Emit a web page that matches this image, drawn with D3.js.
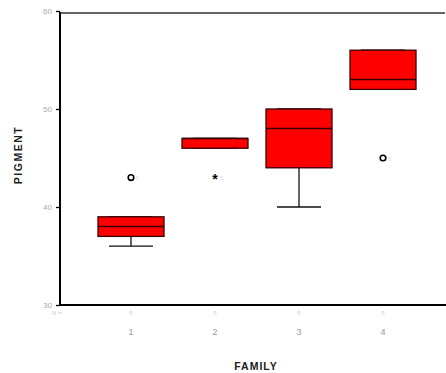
<!DOCTYPE html>
<html>
<head>
<meta charset="utf-8">
<script src="https://cdn.jsdelivr.net/npm/d3@7"></script>
<style>
  body { margin: 0; background: #fff; }
  text { font-family: "Liberation Sans", Arial, sans-serif; }
</style>
</head>
<body>
<script>
// box plot data
var families = [1, 2, 3, 4];
var lowWhisker = [36, 46, 40, 52];
var q1 = [37, 46, 44, 52];
var median = [38, 47, 48, 53];
var q3 = [39, 47, 50, 56];
var highWhisker = [39, 47, 50, 56];
var nCounts = [5, 5, 5, 5];
// outliers: family, value, symbol
var outlierFamily = [1, 2, 4];
var outlierValue = [43, 43, 45];
var outlierSymbol = ["o", "*", "o"];
var yTicks = [30, 40, 50, 60];

var W = 446, H = 373;
var svg = d3.select("body").append("svg")
  .attr("width", W).attr("height", H);

var y = d3.scaleLinear().domain([30, 60]).range([305, 11]);
var x = d3.scaleLinear().domain([1, 4]).range([131, 383]);
var left = 60, right = 446;
var boxW = 66, capW = 44;

// top frame line
svg.append("line")
  .attr("x1", left).attr("x2", right - 1)
  .attr("y1", 13).attr("y2", 13)
  .attr("stroke", "#333").attr("stroke-width", 1.5);

// y axis
var yAxis = d3.axisLeft(y).tickValues(yTicks).tickSize(4).tickPadding(4);
var gy = svg.append("g").attr("transform", "translate(" + left + ",0)").call(yAxis);
gy.select(".domain").remove();
gy.selectAll(".tick line").attr("stroke", "#000").attr("stroke-width", 1.3);
gy.selectAll(".tick text").attr("fill", "#aaa").style("font-size", "8px");

svg.append("line")
  .attr("x1", left).attr("x2", left)
  .attr("y1", 12).attr("y2", 306)
  .attr("stroke", "#000").attr("stroke-width", 2);
svg.append("line")
  .attr("x1", left - 1).attr("x2", right)
  .attr("y1", 305).attr("y2", 305)
  .attr("stroke", "#000").attr("stroke-width", 2);

// boxes
var data = families.map(function (f, i) {
  return { f: f, lo: lowWhisker[i], q1: q1[i], med: median[i], q3: q3[i], hi: highWhisker[i], n: nCounts[i] };
});

var g = svg.selectAll(".box").data(data).enter().append("g").attr("class", "box");

// whisker stems
g.append("line")
  .attr("x1", function (d) { return x(d.f); }).attr("x2", function (d) { return x(d.f); })
  .attr("y1", function (d) { return y(d.lo); }).attr("y2", function (d) { return y(d.q1); })
  .attr("stroke", "#111").attr("stroke-width", 1.3);
g.append("line")
  .attr("x1", function (d) { return x(d.f); }).attr("x2", function (d) { return x(d.f); })
  .attr("y1", function (d) { return y(d.hi); }).attr("y2", function (d) { return y(d.q3); })
  .attr("stroke", "#111").attr("stroke-width", 1.3);
// caps
g.append("line")
  .attr("x1", function (d) { return x(d.f) - capW / 2; }).attr("x2", function (d) { return x(d.f) + capW / 2; })
  .attr("y1", function (d) { return y(d.lo); }).attr("y2", function (d) { return y(d.lo); })
  .attr("stroke", "#111").attr("stroke-width", 1.3);
g.append("line")
  .attr("x1", function (d) { return x(d.f) - capW / 2; }).attr("x2", function (d) { return x(d.f) + capW / 2; })
  .attr("y1", function (d) { return y(d.hi); }).attr("y2", function (d) { return y(d.hi); })
  .attr("stroke", "#111").attr("stroke-width", 1.3);

g.append("rect")
  .attr("x", function (d) { return x(d.f) - boxW / 2; })
  .attr("y", function (d) { return y(d.q3); })
  .attr("width", boxW)
  .attr("height", function (d) { return y(d.q1) - y(d.q3); })
  .attr("fill", "#ff0000").attr("stroke", "#3a0000").attr("stroke-width", 1.3);
g.append("line")
  .attr("x1", function (d) { return x(d.f) - boxW / 2; }).attr("x2", function (d) { return x(d.f) + boxW / 2; })
  .attr("y1", function (d) { return y(d.med); }).attr("y2", function (d) { return y(d.med); })
  .attr("stroke", "#3a0000").attr("stroke-width", 1.5);

// outliers
outlierFamily.forEach(function (f, i) {
  var cx = x(f), cy = y(outlierValue[i]);
  if (outlierSymbol[i] === "o") {
    svg.append("circle").attr("cx", cx).attr("cy", cy).attr("r", 2.8)
      .attr("fill", "none").attr("stroke", "#000").attr("stroke-width", 1.6);
  } else {
    svg.append("text").attr("x", cx).attr("y", cy + 6).attr("text-anchor", "middle")
      .style("font-size", "14px").style("font-weight", "bold").text("*");
  }
  svg.append("text").attr("x", cx + 5).attr("y", cy + 2.5)
    .attr("fill", "#ddd").style("font-size", "6px").text("5");
});

// N = row
svg.append("text").attr("x", 52).attr("y", 315).attr("fill", "#ccc")
  .style("font-size", "6px").text("N =");
svg.selectAll(".ncount").data(data).enter().append("text")
  .attr("x", function (d) { return x(d.f); }).attr("y", 315)
  .attr("text-anchor", "middle").attr("fill", "#ccc").style("font-size", "6px")
  .text(function (d) { return d.n; });

// category labels
svg.selectAll(".cat").data(families).enter().append("text")
  .attr("x", function (d) { return x(d); }).attr("y", 335)
  .attr("text-anchor", "middle").attr("fill", "#999").style("font-size", "9px")
  .text(function (d) { return d; });

// axis titles
svg.append("text").attr("x", 256).attr("y", 370).attr("text-anchor", "middle")
  .style("font-size", "10.5px").style("font-weight", "bold").style("letter-spacing", "1px")
  .attr("fill", "#222").text("FAMILY");
svg.append("text").attr("transform", "translate(22,155) rotate(-90)")
  .attr("text-anchor", "middle")
  .style("font-size", "10.5px").style("font-weight", "bold").style("letter-spacing", "1.5px")
  .attr("fill", "#222").text("PIGMENT");
</script>
</body>
</html>
